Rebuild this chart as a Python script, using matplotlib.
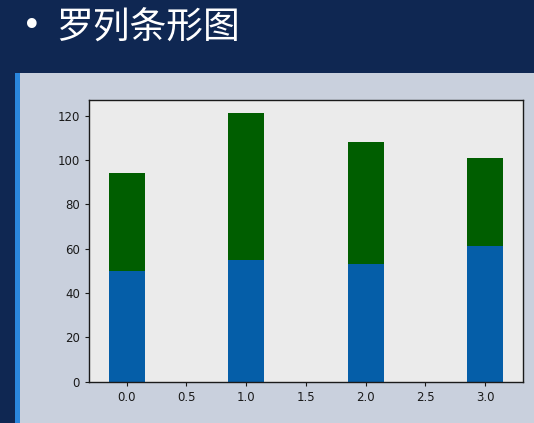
import matplotlib
matplotlib.use("Agg")
import matplotlib.pyplot as plt
from matplotlib.patches import Rectangle

plt.rcParams['font.family'] = ['Noto Sans CJK SC', 'DejaVu Sans']

title = "罗列条形图"
x_positions = [0, 1, 2, 3]
bottom_values = [50, 55, 53, 61]
top_values = [44, 66, 55, 40]
bar_width = 0.3

W, H = 534, 423
fig = plt.figure(figsize=(W / 100, H / 100), dpi=100)
fig.patch.set_facecolor('#0f2752')

# slide panel and accent stripe
fig.patches.append(Rectangle((15 / W, 0), 1 - 15 / W, 1 - 73 / H, transform=fig.transFigure,
                             facecolor='#c9d0dd', edgecolor='none', zorder=0))
fig.patches.append(Rectangle((15 / W, 0), 5 / W, 1 - 73 / H, transform=fig.transFigure,
                             facecolor='#2a86dc', edgecolor='none', zorder=1))

# title
fig.text(22 / W, 1 - 27 / H, "•", color='white', fontsize=24, va='center', ha='left',
         family=['DejaVu Sans'])
fig.text(56 / W, 1 - 28 / H, title, color='white', fontsize=26.5, va='center', ha='left')

ax = fig.add_axes([89 / W, 1 - 381.7 / H, (522.7 - 89) / W, (381.7 - 100) / H])
ax.set_zorder(5)
ax.set_facecolor('#ebebeb')
ax.bar(x_positions, bottom_values, width=bar_width, color='#055ea8', linewidth=0)
ax.bar(x_positions, top_values, width=bar_width, bottom=bottom_values, color='#005e00', linewidth=0)

for s in ax.spines.values():
    s.set_color('#1a1a1a')
    s.set_linewidth(1.0)
ax.tick_params(labelsize=8.5, colors='#1a1a1a', length=3)
for lab in ax.get_xticklabels() + ax.get_yticklabels():
    lab.set_family('DejaVu Sans')

fig.savefig("out.png", dpi=100, facecolor=fig.get_facecolor())
